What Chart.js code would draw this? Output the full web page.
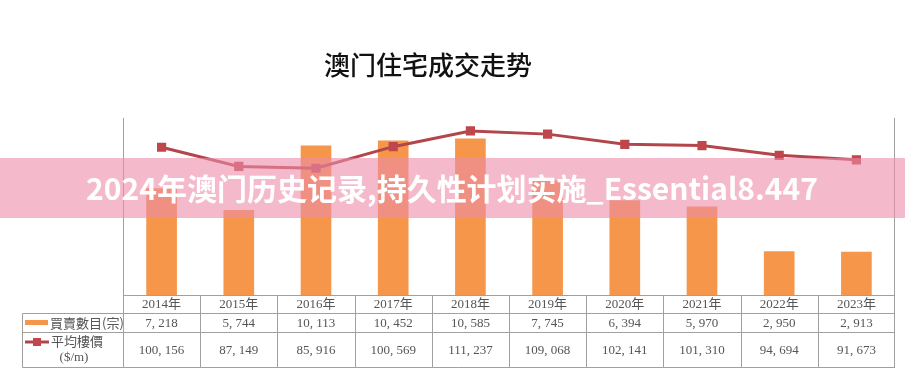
<!DOCTYPE html>
<html>
<head>
<meta charset="utf-8">
<script src="https://cdn.jsdelivr.net/npm/chart.js@4/dist/chart.umd.min.js"></script>
<style>
html,body{margin:0;padding:0;background:#fff;}
#wrap{width:905px;height:377px;position:relative;}
</style>
</head>
<body>
<div id="wrap"><canvas id="c" width="905" height="377"></canvas></div>
<script>
const years = ['2014年','2015年','2016年','2017年','2018年','2019年','2020年','2021年','2022年','2023年'];
const transactions = [7218, 5744, 10113, 10452, 10585, 7745, 6394, 5970, 2950, 2913];
const avgPrice = [100156, 87149, 85916, 100569, 111237, 109068, 102141, 101310, 94694, 91673];
const titleText = '澳门住宅成交走势';
const seriesNames = ['買賣數目(宗)', '平均樓價', '($/m)'];
const bannerText = '2024年澳门历史记录,持久性计划实施_Essential8.447';

const BAR_COLOR = '#f5964a';
const LINE_COLOR = '#b3464a';
const GRID = '#a0a0a0';
const TXT = '#555555';

function fmt(v){ return v.toLocaleString('en-US').replace(/,/g, ', '); }

const tablePlugin = {
  id: 'tablePlugin',
  afterDraw(chart){
    const ctx = chart.ctx;
    const a = chart.chartArea;
    const xs = chart.scales.x;
    const n = years.length;
    const cw = (a.right - a.left) / n;
    const yHead = a.bottom, y1 = 313.5, y2 = 332.5, y3 = 367.5, xL = 22.5;
    ctx.save();
    // title
    ctx.fillStyle = '#111111';
    ctx.textAlign = 'center';
    ctx.textBaseline = 'middle';
    ctx.font = '500 26px "Noto Sans CJK SC", sans-serif';
    ctx.fillText(titleText, 428, 65);

    ctx.strokeStyle = GRID;
    ctx.lineWidth = 1;
    ctx.beginPath();
    ctx.moveTo(Math.round(a.left)+0.5, a.top); ctx.lineTo(Math.round(a.left)+0.5, y3);
    ctx.moveTo(Math.round(a.right)-0.5, a.top); ctx.lineTo(Math.round(a.right)-0.5, y3);
    ctx.moveTo(a.left, Math.round(yHead)+0.5); ctx.lineTo(a.right, Math.round(yHead)+0.5);
    ctx.moveTo(xL, y1); ctx.lineTo(a.right, y1);
    ctx.moveTo(xL, y2); ctx.lineTo(a.right, y2);
    ctx.moveTo(xL, y3); ctx.lineTo(a.right, y3);
    ctx.moveTo(xL, y1); ctx.lineTo(xL, y3);
    for (let i = 1; i < n; i++) {
      const x = Math.round(a.left + i*cw) + 0.5;
      ctx.moveTo(x, yHead); ctx.lineTo(x, y3);
    }
    ctx.stroke();

    ctx.fillStyle = TXT;
    ctx.textAlign = 'center';
    ctx.textBaseline = 'middle';
    ctx.font = '13px "Liberation Serif", "Noto Sans CJK SC", serif';
    for (let i = 0; i < n; i++) {
      const x = xs.getPixelForValue(i);
      ctx.fillText(years[i], x, 304.5);
      ctx.fillText(fmt(transactions[i]), x, 323.5);
      ctx.fillText(fmt(avgPrice[i]), x, 350.5);
    }
    // legend cells
    ctx.fillStyle = BAR_COLOR;
    ctx.fillRect(25, 320, 23, 5);
    ctx.strokeStyle = LINE_COLOR;
    ctx.lineWidth = 3;
    ctx.beginPath(); ctx.moveTo(25, 342); ctx.lineTo(49, 342); ctx.stroke();
    ctx.fillStyle = '#c0484c';
    ctx.fillRect(33, 338, 8, 8);
    ctx.fillStyle = TXT;
    ctx.textAlign = 'left';
    ctx.font = '13px "Noto Sans CJK TC", "Noto Sans CJK SC", sans-serif';
    ctx.fillText(seriesNames[0], 50, 323.5);
    ctx.fillText(seriesNames[1], 51, 341.5);
    ctx.textAlign = 'center';
    ctx.font = '13px "Liberation Serif", serif';
    ctx.fillText(seriesNames[2], 74, 357.5);

    // overlay banner
    ctx.fillStyle = 'rgba(236,140,170,0.6)';
    ctx.fillRect(0, 158, 905, 60);
    ctx.fillStyle = '#ffffff';
    ctx.font = 'bold 30px "Noto Sans CJK SC", "Noto Sans", sans-serif';
    ctx.textAlign = 'center';
    ctx.textBaseline = 'middle';
    ctx.fillText(bannerText, 452, 189);
    ctx.restore();
  }
};

new Chart(document.getElementById('c'), {
  data: {
    labels: years,
    datasets: [
      {
        type: 'line',
        label: seriesNames[1],
        data: avgPrice,
        yAxisID: 'y1',
        borderColor: LINE_COLOR,
        backgroundColor: '#c0484c',
        borderWidth: 3,
        pointStyle: 'rect',
        pointRadius: 6.5,
        pointBorderWidth: 0,
        pointBackgroundColor: '#bf474b',
        tension: 0,
        order: 0
      },
      {
        type: 'bar',
        label: seriesNames[0],
        data: transactions,
        yAxisID: 'y',
        backgroundColor: BAR_COLOR,
        barThickness: 30,
        order: 1
      }
    ]
  },
  options: {
    responsive: false,
    animation: false,
    devicePixelRatio: 1,
    layout: { padding: { left: 123, right: 10, top: 118, bottom: 82 } },
    plugins: {
      legend: { display: false },
      tooltip: { enabled: false },
      title: { display: false }
    },
    scales: {
      x: { display: false, offset: true, grid: { display: false } },
      y: { display: false, min: 0, max: 12000 },
      y1: { display: false, min: 0, max: 120000, position: 'right' }
    }
  },
  plugins: [tablePlugin]
});
</script>
</body>
</html>
